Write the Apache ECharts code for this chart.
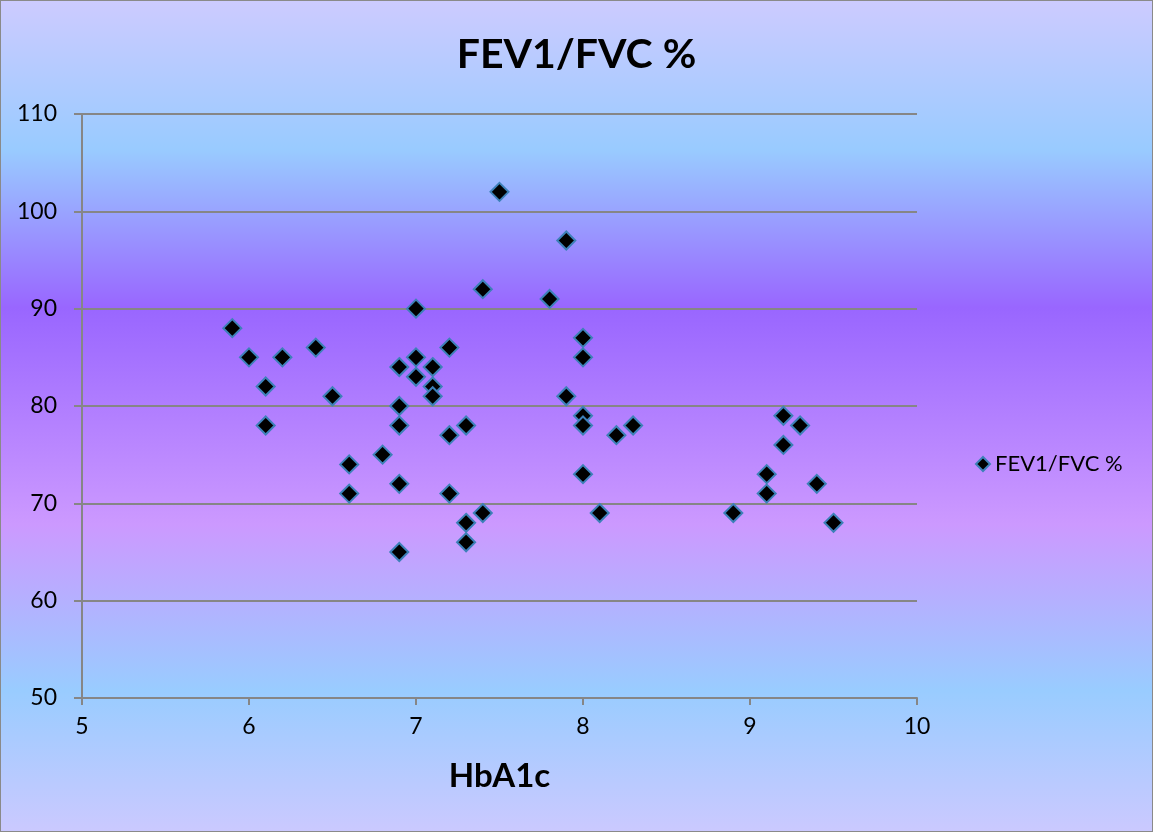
<!DOCTYPE html>
<html>
<head>
<meta charset="utf-8">
<script src="https://cdn.jsdelivr.net/npm/echarts@6/dist/echarts.min.js"></script>
<style>
html,body{margin:0;padding:0;}
#c{width:1153px;height:832px;}
</style>
</head>
<body>
<div id="c"></div>
<script>
const seriesName = 'FEV1/FVC %';
const hba1c = [5.9,6.0,6.1,6.1,6.2,6.4,6.5,6.6,6.6,6.8,6.9,6.9,6.9,6.9,6.9,7.0,7.0,7.0,7.1,7.1,7.1,7.2,7.2,7.2,7.3,7.3,7.3,7.4,7.4,7.5,7.8,7.9,7.9,8.0,8.0,8.0,8.0,8.0,8.1,8.2,8.3,8.9,9.1,9.1,9.2,9.2,9.3,9.4,9.5];
const fevFvc = [88,85,82,78,85,86,81,74,71,75,84,80,78,72,65,90,85,83,84,82,81,86,77,71,78,68,66,92,69,102,91,97,81,87,85,79,78,73,69,77,78,69,73,71,79,76,78,72,68];
const xTicks = [5,6,7,8,9,10];
const yTicks = [50,60,70,80,90,100,110];

const points = hba1c.map((x,i)=>[x,fevFvc[i]]);
const font = 'Lato, "Open Sans", sans-serif';
const chart = echarts.init(document.getElementById('c'));
chart.setOption({
  animation:false,
  backgroundColor:{type:'linear',x:0,y:0,x2:0,y2:1,colorStops:[
    {offset:0,color:'#cdcbff'},
    {offset:0.18,color:'#99cbff'},
    {offset:0.37,color:'#9966ff'},
    {offset:0.63,color:'#cc99ff'},
    {offset:0.83,color:'#99ccff'},
    {offset:1,color:'#cbc9ff'}
  ]},
  title:{text:'FEV1/FVC %',left:'center',top:29,textStyle:{fontFamily:font,fontSize:41,fontWeight:'bold',color:'#000'}},
  legend:{data:[seriesName],left:970,top:448,icon:'diamond',itemWidth:14,itemHeight:14,itemGap:4,
    textStyle:{fontFamily:font,fontSize:22,color:'#000',padding:[0,0,0,0]}},
  grid:{left:82,right:236,top:114,bottom:134},
  xAxis:{type:'value',min:5,max:10,interval:1,
    name:'HbA1c',nameLocation:'middle',nameGap:62,
    nameTextStyle:{fontFamily:font,fontSize:33,fontWeight:'bold',color:'#000'},
    axisLine:{show:true,lineStyle:{color:'#868686',width:2}},
    axisTick:{show:true,length:7,lineStyle:{color:'#868686',width:2}},
    axisLabel:{fontFamily:font,fontSize:23,color:'#000',margin:17,formatter:v=>xTicks.includes(v)?String(v):''},
    splitLine:{show:false}},
  yAxis:{type:'value',min:50,max:110,interval:10,
    axisLine:{show:true,lineStyle:{color:'#868686',width:2}},
    axisTick:{show:true,length:8,lineStyle:{color:'#868686',width:2}},
    axisLabel:{fontFamily:font,fontSize:23,color:'#000',margin:25,formatter:v=>yTicks.includes(v)?String(v):''},
    splitLine:{show:true,lineStyle:{color:'#868686',width:2}}},
  series:[{name:seriesName,type:'scatter',data:points,symbol:'diamond',symbolSize:18,
    itemStyle:{color:'#000',borderColor:'#3d80b8',borderWidth:2,opacity:1}}]
});
</script>
<div style="position:absolute;left:0;top:0;width:1151px;height:830px;border:1px solid #8a8a8a;pointer-events:none;"></div>
</body>
</html>
